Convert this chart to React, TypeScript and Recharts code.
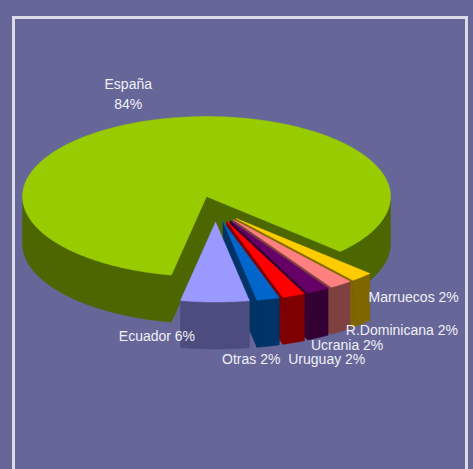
import { PieChart, Pie, Cell } from 'recharts';

// Origen de la población (país de nacimiento), porcentajes
const countries = ['España', 'Marruecos', 'R.Dominicana', 'Ucrania', 'Uruguay', 'Otras', 'Ecuador'];
const shares = [84, 2, 2, 2, 2, 2, 6];
const sliceColors = ['#99CC00', '#FFCC00', '#FF8080', '#660066', '#FF0000', '#0066CC', '#9999FF'];

const data = countries.map((name, i) => ({ name, value: shares[i] }));

// fake 3D settings
const TILT = 80 / 184;
const DEPTH = 47;
const EXPLODE = 30;
const RAD = Math.PI / 180;

// where each Excel-style label sits relative to the rim point of its slice
const labelNudge: Record<string, { dx: number; dy: number }> = {
  'España': { dx: -22, dy: -31 },
  'Marruecos': { dx: 52, dy: 25 },
  'R.Dominicana': { dx: 61, dy: 51 },
  'Ucrania': { dx: 29, dy: 59 },
  'Uruguay': { dx: 33, dy: 68 },
  'Otras': { dx: -17, dy: 65 },
  'Ecuador': { dx: -58, dy: 39 },
};

const pt = (x: number, y: number, r: number, a: number): [number, number] => [
  x + r * Math.cos(a * RAD),
  y - r * TILT * Math.sin(a * RAD),
];

const arcPoints = (x: number, y: number, r: number, a0: number, a1: number, dy = 0) => {
  const n = Math.max(2, Math.ceil(Math.abs(a1 - a0)));
  const pts: [number, number][] = [];
  for (let i = 0; i <= n; i++) {
    const p = pt(x, y, r, a0 + ((a1 - a0) * i) / n);
    pts.push([p[0], p[1] + dy]);
  }
  return pts;
};

const toPath = (pts: [number, number][]) =>
  'M' + pts.map(p => p[0].toFixed(2) + ',' + p[1].toFixed(2)).join('L') + 'Z';

const darken = (hex: string) => {
  const n = parseInt(hex.slice(1), 16);
  const c = [(n >> 16) & 255, (n >> 8) & 255, n & 255].map(v => Math.floor(v / 2));
  return `rgb(${c[0]},${c[1]},${c[2]})`;
};

const Slice3D = (props: any) => {
  const { cx, cy, outerRadius, startAngle, endAngle, fill } = props;
  const lo = Math.min(startAngle, endAngle);
  const hi = Math.max(startAngle, endAngle);
  const mid = (lo + hi) / 2;
  const [ox, oy] = pt(cx, cy, EXPLODE, mid);
  const side = darken(fill);
  const faces: string[] = [];

  // cut faces, only the ones turned to the viewer
  [[hi, hi + 90], [lo, lo - 90]].forEach(([a, n]) => {
    if (Math.sin(n * RAD) < 0) {
      const [rx, ry] = pt(ox, oy, outerRadius, a);
      faces.push(toPath([[ox, oy], [rx, ry], [rx, ry + DEPTH], [ox, oy + DEPTH]]));
    }
  });

  // outer wall, front half only
  for (let k = -1; k <= 1; k++) {
    const a0 = Math.max(lo, -180 + 360 * k);
    const a1 = Math.min(hi, 360 * k);
    if (a1 > a0) {
      const top = arcPoints(ox, oy, outerRadius, a0, a1);
      const bottom = arcPoints(ox, oy, outerRadius, a1, a0, DEPTH);
      faces.push(toPath([...top, ...bottom]));
    }
  }

  const topFace = toPath([[ox, oy], ...arcPoints(ox, oy, outerRadius, hi, lo)]);

  return (
    <g>
      {faces.map((d, i) => (
        <path key={i} d={d} fill={side} stroke={side} strokeWidth={0.5} />
      ))}
      <path d={topFace} fill={fill} stroke={fill} strokeWidth={0.5} />
    </g>
  );
};

const renderLabel = (props: any) => {
  const { cx, cy, midAngle, outerRadius, name, percent } = props;
  const [ox, oy] = pt(cx, cy, EXPLODE, midAngle);
  const [rx, ry] = pt(ox, oy, outerRadius, midAngle);
  const nudge = labelNudge[name] || { dx: 0, dy: 0 };
  const pct = `${Math.round(percent * 100)}%`;
  const x = rx + nudge.dx;
  const y = ry + nudge.dy;
  const style = { fontFamily: '"Liberation Sans", Arial, sans-serif', fontSize: 14 };
  if (name === 'España') {
    return (
      <text x={x} y={y} fill="#F0F0F6" textAnchor="middle" style={style}>
        <tspan x={x}>{name}</tspan>
        <tspan x={x} dy={20}>{pct}</tspan>
      </text>
    );
  }
  return (
    <text x={x} y={y} fill="#F0F0F6" textAnchor="middle" style={style}>
      {`${name} ${pct}`}
    </text>
  );
};

export default function App() {
  return (
    <div style={{ position: 'absolute', left: 0, top: 0, width: 473, height: 469, background: '#666699', overflow: 'hidden' }}>
      <div
        style={{
          position: 'absolute',
          left: 12,
          top: 16,
          width: 456,
          height: 470,
          border: '3px solid #DCDCE6',
          boxSizing: 'border-box',
        }}
      />
      <div style={{ position: 'absolute', left: 0, top: 0 }}>
        <PieChart width={473} height={469} margin={{ top: 0, right: 0, bottom: 0, left: 0 }}>
          <Pie
            data={data}
            dataKey="value"
            nameKey="name"
            cx={215.7}
            cy={209}
            outerRadius={184}
            startAngle={259}
            endAngle={-101}
            stroke="none"
            labelLine={false}
            label={renderLabel}
            shape={Slice3D}
            activeShape={Slice3D}
            inactiveShape={Slice3D}
            isAnimationActive={false}
          >
            {data.map((d, i) => (
              <Cell key={d.name} fill={sliceColors[i]} />
            ))}
          </Pie>
        </PieChart>
      </div>
    </div>
  );
}
